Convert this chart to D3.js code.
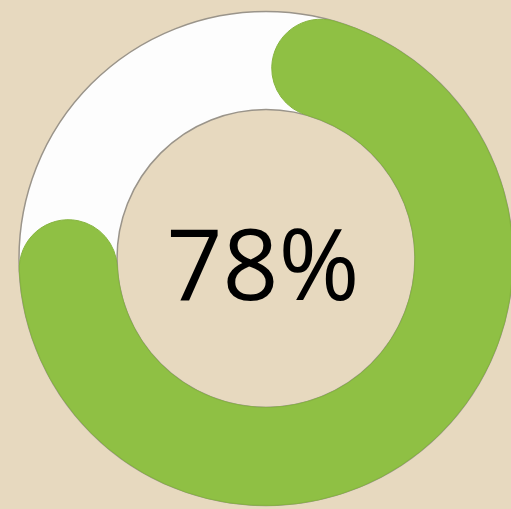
<!DOCTYPE html>
<html><head><meta charset="utf-8">
<script src="https://cdn.jsdelivr.net/npm/d3@7"></script>
<style>html,body{margin:0;padding:0;background:#e7d9bf;}svg{display:block;}</style>
</head><body>
<script>
const categories = ["Complete", "Remaining"];
const values = [78, 22];
const labels = ["78%"];

const W = 511, H = 509;
const cx = 266, cy = 258.5, rOuter = 247, rInner = 149;
const svg = d3.select("body").append("svg").attr("width", W).attr("height", H);
svg.append("rect").attr("width", W).attr("height", H).attr("fill", "#e7d9bf");
const g = svg.append("g").attr("transform", `translate(${cx},${cy})`);

const total = d3.sum(values);
const angle = d3.scaleLinear().domain([0, total]).range([0, 2 * Math.PI]);

// background ring
const ring = d3.arc().innerRadius(rInner).outerRadius(rOuter).startAngle(0).endAngle(2 * Math.PI);
g.append("path").attr("d", ring()).attr("fill", "#fdfdfd");
g.append("circle").attr("r", rOuter).attr("fill", "none").attr("stroke", "#9a948a").attr("stroke-width", 1.5);
g.append("circle").attr("r", rInner).attr("fill", "none").attr("stroke", "#9a948a").attr("stroke-width", 1.5);

// progress arc
const arc = d3.arc().innerRadius(rInner).outerRadius(rOuter).cornerRadius((rOuter - rInner) / 2);
g.append("path")
  .attr("d", arc({startAngle: angle(0) + 0.03, endAngle: angle(values[0]) + 0.01}))
  .attr("fill", "#8fc044")
  .attr("stroke", "#86b43f").attr("stroke-width", 1);

g.append("text").text(labels[0])
  .attr("x", -3).attr("y", 41)
  .attr("text-anchor", "middle")
  .attr("font-family", "'Open Sans', 'Liberation Sans', sans-serif")
  .attr("font-size", 98)
  .attr("fill", "#000");
</script>
</body></html>
